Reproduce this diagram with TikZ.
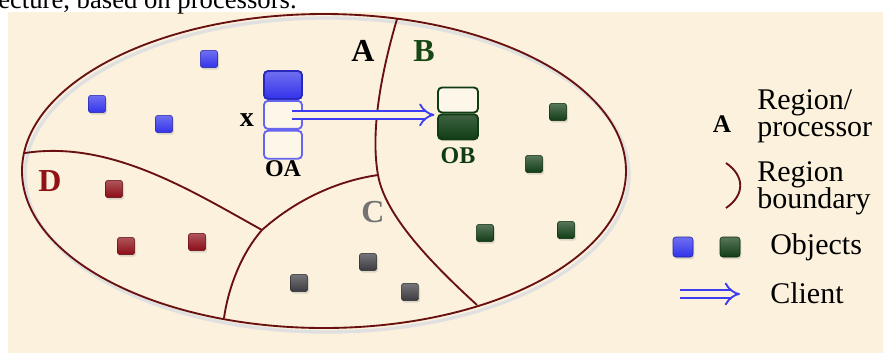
\documentclass[tikz,border=0pt]{standalone}
\usepackage{fontspec}
\setmainfont{Liberation Serif}
\usepackage{xcolor}
\usetikzlibrary{arrows.meta,calc,positioning,shadows}

\definecolor{parch}{RGB}{251,241,220}
\definecolor{bord}{RGB}{105,16,16}
\definecolor{objblue}{RGB}{50,50,235}
\definecolor{objgreen}{RGB}{16,60,20}
\definecolor{objred}{RGB}{140,12,22}
\definecolor{objgrey}{RGB}{58,58,64}
\definecolor{lblB}{RGB}{22,72,22}
\definecolor{lblC}{RGB}{115,115,115}
\definecolor{lblD}{RGB}{145,18,22}
\definecolor{clientblue}{RGB}{60,60,240}

\tikzset{
  obj/.style={rounded corners=2pt, minimum size=13pt, inner sep=0pt,
    draw=#1!70!black, top color=#1!70!white, bottom color=#1,
    drop shadow={opacity=0.25, shadow xshift=1pt, shadow yshift=-1.5pt}},
  slot/.style={rounded corners=3pt, inner sep=0pt, line width=1.4pt},
  boundary/.style={draw=bord, line width=1.4pt},
  regionlbl/.style={font=\fontsize{24}{24}\selectfont\bfseries, inner sep=0pt},
  objlbl/.style={font=\fontsize{18}{18}\selectfont\bfseries, inner sep=0pt},
  legtxt/.style={font=\fontsize{22.5}{20.5}\selectfont, align=left, anchor=west, inner sep=0pt},
  client/.style={draw=clientblue, line width=1.4pt, double=parch,
    double distance=4.5pt, -{Implies}}
}

\begin{document}
\begin{tikzpicture}[x=0.75pt,y=0.75pt,yscale=-1,xscale=1]
\useasboundingbox (0,0) rectangle (883,355);
\fill[white] (0,0) rectangle (883,355);
%Background: parchment
\fill[parch] (8,12) rectangle (883,353);
% Text Node: line cut off above
\node[anchor=base west, inner sep=0pt, font=\fontsize{20}{20}\selectfont] (cut) at (-2,8) {ecture, based on processors.};

%Shape: Ellipse (shadow, then outline)
\draw[black!12, line width=2.5pt] (327,175) ellipse [x radius=302, y radius=157];
\draw[boundary] (324,171) ellipse [x radius=302, y radius=157];

%Region boundaries
\coordinate (abtop) at (397,19);
\coordinate (abc) at (378,175);
\coordinate (abbot) at (477,305);
\coordinate (cdj) at (262,230);
\coordinate (cdbot) at (224,318);
\coordinate (dleft) at (25,153);
\draw[boundary] (abtop) .. controls (382,70) and (370,130) .. (abc) .. controls (385,215) and (430,262) .. (abbot);
\draw[boundary] (abc) .. controls (330,182) and (290,205) .. (cdj);
\draw[boundary] (cdj) .. controls (240,255) and (228,290) .. (cdbot);
\draw[boundary] (dleft) .. controls (110,140) and (190,190) .. (cdj);

%Region labels
\node[regionlbl] (lblA) at (363,51) {A};
\node[regionlbl, text=lblB] (lblB) at (424,51) {B};
\node[regionlbl, text=lblC] (lblC) at (373,212) {C};
\node[regionlbl, text=lblD] (lblD) at (50,181) {D};

%Objects
\node[obj=objblue] (b1) at (209,59) {};
\node[obj=objblue] (b2) at (97,104) {};
\node[obj=objblue] (b3) at (164,124) {};
\node[obj=objred] (d1) at (114,189) {};
\node[obj=objred] (d2) at (126,246) {};
\node[obj=objred] (d3) at (197,242) {};
\node[obj=objgrey] (c1) at (368,262) {};
\node[obj=objgrey] (c2) at (299,283) {};
\node[obj=objgrey] (c3) at (410,292) {};
\node[obj=objgreen] (g1) at (558,112) {};
\node[obj=objgreen] (g2) at (534,164) {};
\node[obj=objgreen] (g3) at (485,233) {};
\node[obj=objgreen] (g4) at (566,230) {};

%Object store OA
\node[slot, draw=objblue!80!black, top color=objblue!70!white, bottom color=objblue,
  minimum width=28.5pt, minimum height=21pt] (oa1) at (283,85) {};
\node[slot, draw=objblue!75!white, fill=parch!60!white, minimum width=28.5pt,
  minimum height=21pt, below=0pt of oa1] (oa2) {};
\node[slot, draw=objblue!75!white, fill=parch!60!white, minimum width=28.5pt,
  minimum height=21pt, below=0pt of oa2] (oa3) {};
\node[font=\fontsize{21}{21}\selectfont\bfseries, inner sep=0pt, anchor=east] (xlbl) at ($(oa2.west)+(-9,5)$) {x};
\node[objlbl, anchor=north] (oalbl) at ($(oa3.south)+(0,1)$) {OA};

%Object store OB
\node[slot, draw=objgreen, fill=parch!60!white, minimum width=30pt,
  minimum height=18.75pt] (ob1) at (458,100) {};
\node[slot, draw=objgreen, top color=objgreen!80!white, bottom color=objgreen,
  minimum width=30pt, minimum height=18.75pt, below=0pt of ob1] (ob2) {};
\node[objlbl, text=objgreen, below=5pt of ob2] (oblbl) {OB};

%Client
\coordinate (cl) at ($(oa2.center)+(7pt,0)$);
\draw[client] (cl) -- ($(cl -| ob1.west)+(-2pt,0)$);

%Legend
\node[font=\fontsize{19}{19}\selectfont\bfseries, inner sep=0pt] (lgA) at (722,124) {A};
\node[legtxt] (lgregion) at (757,116) {Region/\\processor};
\coordinate (lgbt) at (726,163);
\coordinate (lgbb) at (726,208);
\draw[boundary] (lgbt) .. controls (745,176) and (745,195) .. (lgbb);
\node[legtxt] (lgbound) at (757,188) {Region\\boundary};
\node[obj=objblue, minimum size=15pt] (lgblue) at (683,247) {};
\node[obj=objgreen, minimum size=15pt] (lggreen) at (730,247) {};
\node[legtxt] (lgobj) at (770,247) {Objects};
\coordinate (lgcla) at (680,294);
\coordinate (lgclb) at (740,294);
\draw[client] (lgcla) -- (lgclb);
\node[legtxt] (lgclient) at (770,293) {Client};

\end{tikzpicture}
\end{document}
